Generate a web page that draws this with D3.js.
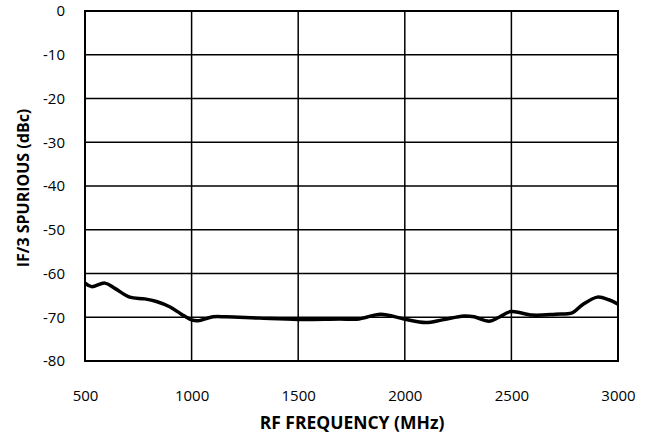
<!DOCTYPE html>
<meta charset="utf-8">
<style>
body { margin: 0; background: #fff; }
text { font-family: "Open Sans", "Liberation Sans", sans-serif; fill: #000; }
.tick text { font-size: 15px; }
.title { font-weight: bold; }
</style>
<svg width="657" height="437"></svg>
<script src="https://d3js.org/d3.v7.min.js"></script>
<script>

// frequency (MHz) and IF/3 spurious (dBc)
var freq = [500, 531, 593, 640, 710, 780, 835, 897, 952, 1000, 1030, 1100, 1162, 1318, 1500, 1692, 1785, 1887, 1996, 2098, 2176, 2278, 2325, 2395, 2442, 2497, 2598, 2707, 2785, 2832, 2903, 2957, 3000];
var spur = [-62.2, -63.0, -62.2, -63.4, -65.4, -65.8, -66.4, -67.6, -69.3, -70.6, -70.8, -69.9, -69.9, -70.2, -70.5, -70.4, -70.4, -69.3, -70.4, -71.2, -70.6, -69.7, -69.9, -70.9, -70.0, -68.7, -69.5, -69.3, -69.0, -67.2, -65.4, -66.0, -67.0];

var xTicks = [500, 1000, 1500, 2000, 2500, 3000];
var yTicks = [0, -10, -20, -30, -40, -50, -60, -70, -80];

var plotL = 85, plotR = 618, plotT = 11, plotB = 361;

var svg = d3.select("svg");

var x = d3.scaleLinear().domain([500, 3000]).range([plotL, plotR]);
var y = d3.scaleLinear().domain([-80, 0]).range([plotB, plotT]);

// grid
svg.append("g")
  .selectAll("line")
  .data(xTicks)
  .enter().append("line")
    .attr("x1", function(d) { return x(d); })
    .attr("x2", function(d) { return x(d); })
    .attr("y1", plotT).attr("y2", plotB)
    .attr("stroke", "#000").attr("stroke-width", 1.5);

svg.append("g")
  .selectAll("line")
  .data(yTicks)
  .enter().append("line")
    .attr("x1", plotL).attr("x2", plotR)
    .attr("y1", function(d) { return y(d); })
    .attr("y2", function(d) { return y(d); })
    .attr("stroke", "#000").attr("stroke-width", 1.5);

svg.append("rect")
    .attr("x", plotL).attr("y", plotT)
    .attr("width", plotR - plotL).attr("height", plotB - plotT)
    .attr("fill", "none").attr("stroke", "#000").attr("stroke-width", 2);

// axes (labels only, plain hyphen minus)
var xAxis = svg.append("g")
    .attr("transform", "translate(0," + plotB + ")")
    .call(d3.axisBottom(x).tickValues(xTicks).tickSize(0).tickPadding(29).tickFormat(String));
xAxis.select(".domain").remove();

var yAxis = svg.append("g")
    .attr("transform", "translate(" + plotL + ",0)")
    .call(d3.axisLeft(y).tickValues(yTicks).tickSize(0).tickPadding(20).tickFormat(String));
yAxis.select(".domain").remove();

// curve
var line = d3.line()
    .x(function(d, i) { return x(freq[i]); })
    .y(function(d) { return y(d); })
    .curve(d3.curveCatmullRom);

svg.append("path")
    .datum(spur)
    .attr("d", line)
    .attr("fill", "none")
    .attr("stroke", "#000")
    .attr("stroke-width", 3.5)
    .attr("stroke-linejoin", "round");

// titles
svg.append("text")
    .attr("class", "title")
    .attr("x", 352)
    .attr("y", 429)
    .attr("text-anchor", "middle")
    .style("font-size", "17.5px")
    .text("RF FREQUENCY (MHz)");

svg.append("text")
    .attr("class", "title")
    .attr("transform", "translate(29,188) rotate(-90)")
    .attr("text-anchor", "middle")
    .style("font-size", "16px")
    .text("IF/3 SPURIOUS (dBc)");

</script>
